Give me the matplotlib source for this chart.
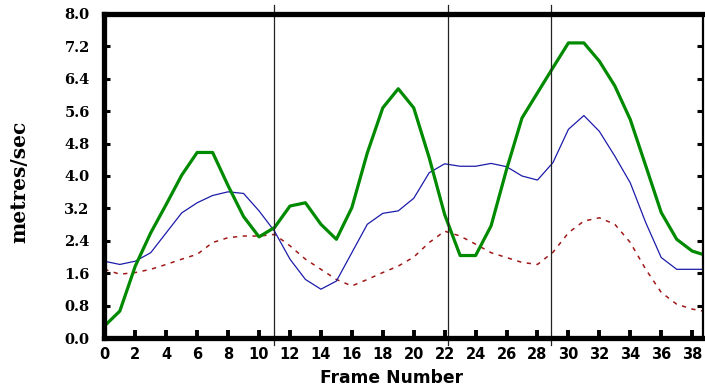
import matplotlib
matplotlib.use("Agg")
import matplotlib.pyplot as plt
import numpy as np

# frame numbers and speeds
frames = np.arange(0, 40)
green_speed = [0.30, 0.67, 1.78, 2.60, 3.30, 4.02, 4.58, 4.58, 3.76, 3.00,
               2.50, 2.73, 3.26, 3.34, 2.81, 2.44, 3.22, 4.57, 5.68, 6.15,
               5.68, 4.45, 3.05, 2.04, 2.04, 2.77, 4.16, 5.43, 6.05, 6.67,
               7.28, 7.28, 6.83, 6.22, 5.39, 4.25, 3.10, 2.44, 2.15, 2.03]
blue_speed = [1.90, 1.82, 1.90, 2.11, 2.60, 3.09, 3.34, 3.52, 3.61, 3.57,
              3.14, 2.64, 1.95, 1.45, 1.21, 1.41, 2.11, 2.81, 3.08, 3.14,
              3.45, 4.08, 4.30, 4.24, 4.24, 4.31, 4.23, 4.00, 3.90, 4.33,
              5.15, 5.49, 5.10, 4.49, 3.83, 2.85, 1.99, 1.70, 1.70, 1.70]
red_speed = [1.70, 1.58, 1.62, 1.70, 1.82, 1.95, 2.07, 2.36, 2.48, 2.52,
             2.52, 2.56, 2.28, 1.95, 1.70, 1.45, 1.29, 1.45, 1.62, 1.78,
             2.00, 2.36, 2.64, 2.52, 2.32, 2.11, 1.99, 1.87, 1.82, 2.12,
             2.60, 2.89, 2.97, 2.81, 2.36, 1.70, 1.13, 0.84, 0.72, 0.65]
event_frames = [10.94, 22.2, 28.87]

x_ticks = np.arange(0, 39, 2)
y_ticks = np.round(np.arange(0, 8.01, 0.8), 1)

fig = plt.figure(figsize=(7.05, 3.86), dpi=100)
ax = fig.add_axes([0.148, 0.1236, 0.8485, 0.8409])

ax.plot(frames, red_speed, color="#a01818", lw=1.1, dashes=(2.8, 3.6))
ax.plot(frames, blue_speed, color="#1c1caa", lw=0.9)
ax.plot(frames, green_speed, color="#008a00", lw=2.3)

for xe in event_frames:
    ax.plot([xe, xe], [-0.02, 1.028], transform=ax.get_xaxis_transform(),
            color="#222222", lw=0.9, clip_on=False)

ax.set_xlim(0, 38.67)
ax.set_ylim(0, 8)

ax.set_xticks(x_ticks)
ax.set_xticklabels([str(v) for v in x_ticks], fontfamily="DejaVu Sans",
                   fontweight="bold", fontsize=10.5)
ax.set_yticks(y_ticks)
ax.set_yticklabels([f"{v:.1f}" for v in y_ticks], fontfamily="DejaVu Serif",
                   fontweight="bold", fontsize=10.5)

ax.tick_params(axis="x", direction="in", length=6, width=2.8, pad=6, top=False)
ax.tick_params(axis="y", direction="in", length=4, width=2.2, pad=10.5, right=True)

for side in ["left", "bottom", "top"]:
    ax.spines[side].set_linewidth(3.8)
ax.spines["right"].set_linewidth(1.6)

ax.set_xlabel("Frame Number", fontfamily="DejaVu Sans", fontweight="bold",
              fontsize=12.3)
ax.xaxis.set_label_coords(0.48, -0.094)
ax.xaxis.label.set_va("top")
ax.set_ylabel("metres/sec", fontfamily="DejaVu Serif", fontweight="bold",
              fontsize=14.5)
ax.yaxis.set_label_coords(-0.126, 0.483)

fig.savefig("out.png", dpi=100)
